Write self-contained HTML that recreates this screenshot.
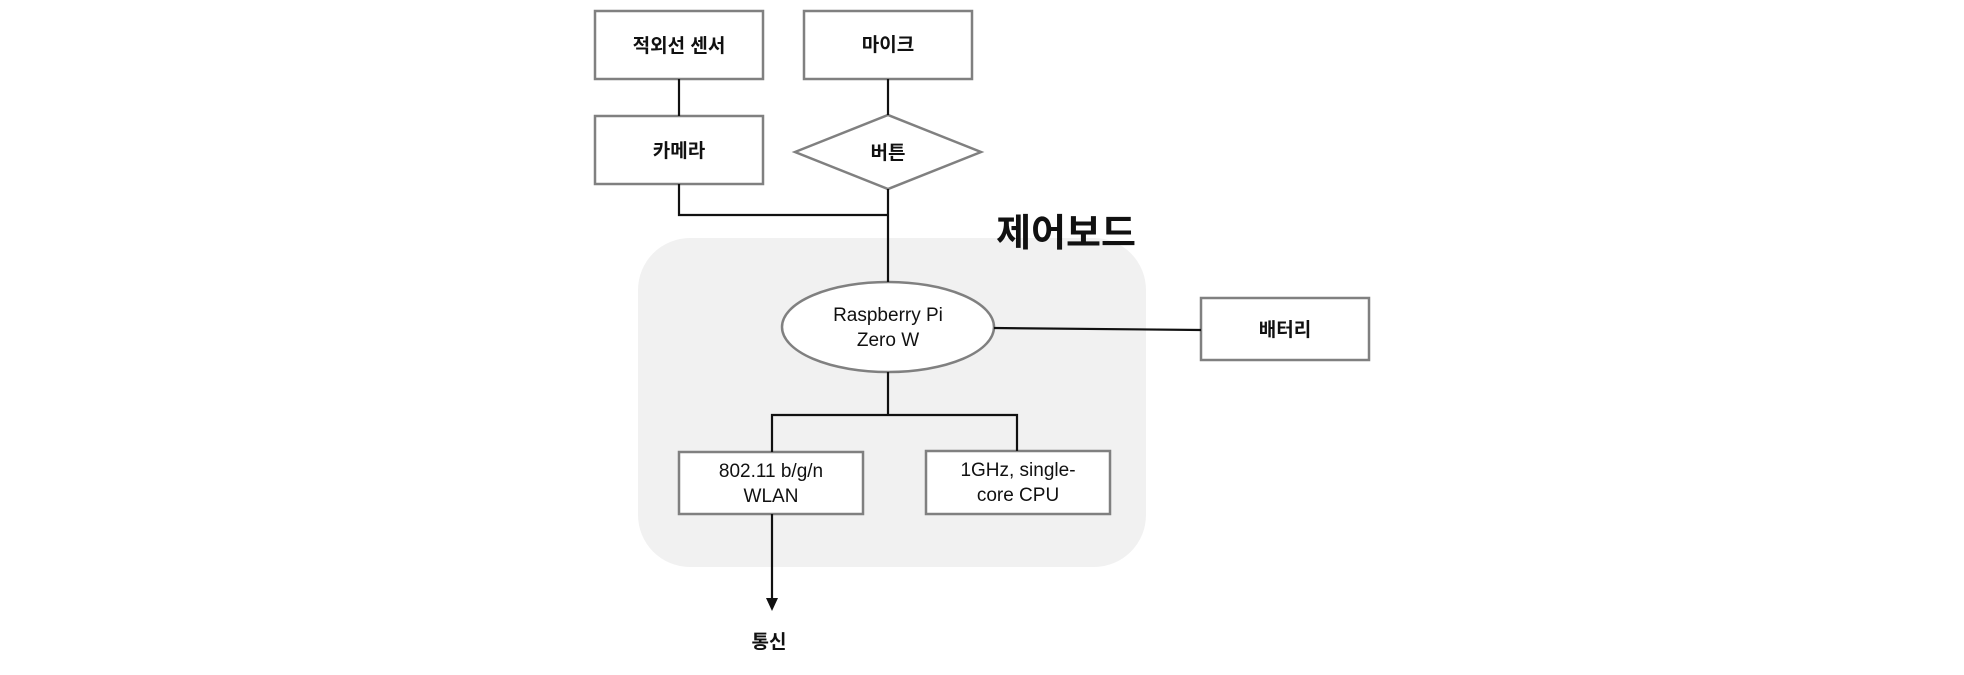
<!DOCTYPE html>
<html><head><meta charset="utf-8"><style>
html,body{margin:0;padding:0;background:#fff;}
svg text{font-family:"Liberation Sans","Noto Sans CJK KR","NanumGothic",sans-serif;fill:#111;}
</style></head><body>
<svg width="1964" height="670" viewBox="0 0 1964 670" xmlns="http://www.w3.org/2000/svg">
<rect x="638" y="238" width="508" height="329" rx="52" fill="#f1f1f1"/>
<g fill="#fff" stroke="#808080" stroke-width="2.5">
<rect x="595" y="11" width="168" height="68"/>
<rect x="804" y="11" width="168" height="68"/>
<rect x="595" y="116" width="168" height="68"/>
<polygon points="795,152 888,115 981,152 888,189"/>
<ellipse cx="888" cy="327" rx="106" ry="45"/>
<rect x="1201" y="298" width="168" height="62"/>
<rect x="679" y="452" width="184" height="62"/>
<rect x="926" y="451" width="184" height="63"/>
</g>
<g stroke="#111" stroke-width="2.2" fill="none">
<line x1="679" y1="79" x2="679" y2="116"/>
<line x1="888" y1="79" x2="888" y2="115"/>
<polyline points="679,184 679,215 888,215"/>
<line x1="888" y1="189" x2="888" y2="282"/>
<line x1="994" y1="328" x2="1201" y2="330"/>
<line x1="888" y1="372" x2="888" y2="415"/>
<polyline points="772,452 772,415 1017,415 1017,451"/>
<line x1="772" y1="514" x2="772" y2="600"/>
</g>
<polygon points="766,598 778,598 772,611" fill="#111"/>
<g font-size="19" text-anchor="middle">
<text x="679" y="52" font-weight="bold">적외선 센서</text>
<text x="888" y="51" font-weight="bold">마이크</text>
<text x="679" y="157" font-weight="bold">카메라</text>
<text x="888" y="159" font-weight="bold">버튼</text>
<text x="1285" y="336" font-weight="bold">배터리</text>
<text x="888" y="321">Raspberry Pi</text>
<text x="888" y="346">Zero W</text>
<text x="771" y="477">802.11 b/g/n</text>
<text x="771" y="502">WLAN</text>
<text x="1018" y="476">1GHz, single-</text>
<text x="1018" y="501">core CPU</text>
<text x="769" y="648" font-weight="bold">통신</text>
<text x="1066" y="246" font-size="38" font-weight="bold">제어보드</text>
</g>
</svg>
</body></html>
